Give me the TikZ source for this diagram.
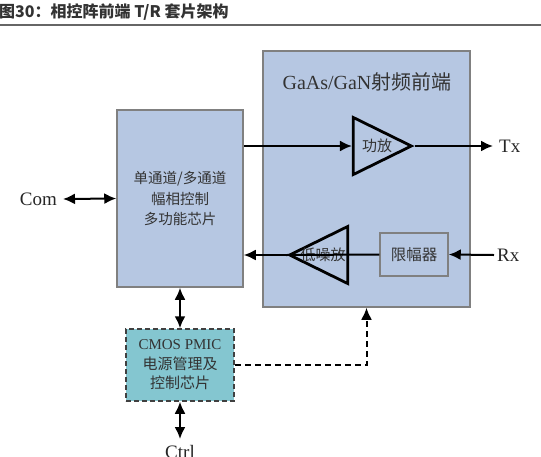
\documentclass[tikz,border=0pt]{standalone}
\usepackage{fontspec}
\usepackage{xcolor}
\usepackage{tikz}
\usetikzlibrary{arrows.meta,calc,positioning}
\usetikzlibrary{shapes.geometric}
\setmainfont{Liberation Serif}
\newfontfamily\cjk{Noto Sans CJK SC}
\definecolor{rfblue}{RGB}{182,199,226}
\definecolor{pmicteal}{RGB}{132,198,208}
\definecolor{boxgray}{RGB}{128,128,128}

\begin{document}
\begin{tikzpicture}[
    x=1pt, y=-1pt,
    blockbox/.style={rectangle, draw=boxgray, line width=1.5pt, fill=rfblue, inner sep=0},
    ampbox/.style={isosceles triangle, isosceles triangle stretches, draw=black, line width=2.8pt,
        fill=rfblue, inner sep=0, minimum width=57, minimum height=58},
    cjktxt/.style={font=\cjk\fontsize{14.5}{20.5}\selectfont, text=black!80, align=center},
    lattxt/.style={font=\fontsize{19}{22}\selectfont, text=black!85},
    sig/.style={line width=2pt, -{Latex[length=12pt,width=11pt]}},
    bisig/.style={line width=2pt, {Latex[length=12pt,width=11pt]}-{Latex[length=12pt,width=11pt]}}]
\useasboundingbox (0,0) rectangle (541,456);

% title
\node[anchor=west, inner sep=0, font=\cjk\bfseries\fontsize{16}{18}\selectfont, text=black!80] (title) at (-1,12)
    {图30：相控阵前端 T/R 套片架构};
\draw[line width=1.6pt, black!60] (0,25) -- (541,25);

% blocks
\node[blockbox, minimum width=207, minimum height=256] (rf) at (366.5,179) {};
\node[font=\fontsize{20}{22}\selectfont, text=black!80] (rftitle) at (367,82) {GaAs/GaN{\cjk 射频前端}};
\node[blockbox, minimum width=126, minimum height=177] (chip) at (180,198.5) {};
\node[cjktxt] (chiptxt) at (chip.center) {单通道/多通道\\幅相控制\\多功能芯片};
\node[blockbox, dashed, dash pattern=on 5pt off 3pt, draw=black!75, fill=pmicteal,
    minimum width=108, minimum height=72] (pmic) at (180,365) {};
\node[cjktxt, font=\fontsize{15}{19.5}\selectfont] (pmictxt) at (pmic.center)
    {CMOS PMIC\\{\cjk 电源管理及}\\{\cjk 控制芯片}};

\node[ampbox, anchor=apex] (pa) at (415,146) {};
\node[cjktxt, font=\cjk\fontsize{15}{18}\selectfont] (patxt) at ([xshift=-38]pa.apex) {功放};
\node[ampbox, shape border rotate=180, anchor=apex] (lna) at (286,255) {};
\node[cjktxt, font=\cjk\fontsize{15}{18}\selectfont] (lnatxt) at ([xshift=37]lna.apex) {低噪放};
\node[blockbox, minimum width=68, minimum height=43] (lim) at (414,254.5) {};
\node[cjktxt, font=\cjk\fontsize{15.5}{18}\selectfont] (limtxt) at (lim.center) {限幅器};

% ports
\node[lattxt, anchor=east, inner sep=0] (com) at (57,199) {Com};
\node[lattxt, anchor=west, inner sep=0] (tx) at (499,146) {Tx};
\node[lattxt, anchor=west, inner sep=0] (rx) at (497,255) {Rx};
\node[lattxt, anchor=north, inner sep=0] (ctrl) at (180,445) {Ctrl};

% connections
\draw[bisig] ([xshift=6]com.east) -- (chip.west);
\draw[sig] (chip.east |- pa.west) -- (pa.west);
\draw[sig] (pa.apex) -- ([xshift=-6]tx.west);
\draw[sig] ([xshift=-3]rx.west) -- (lim.east);
\draw[line width=2pt] (lim.west) -- (lna.west);
\draw[sig] (lna.apex) -- (lna.apex -| chip.east);
\draw[bisig] (chip.south) -- (pmic.north);
\draw[bisig] (pmic.south) -- ([yshift=6]ctrl.north);
\draw[sig, dash pattern=on 6pt off 4pt] (pmic.east) -| (rf.south);

\end{tikzpicture}
\end{document}
